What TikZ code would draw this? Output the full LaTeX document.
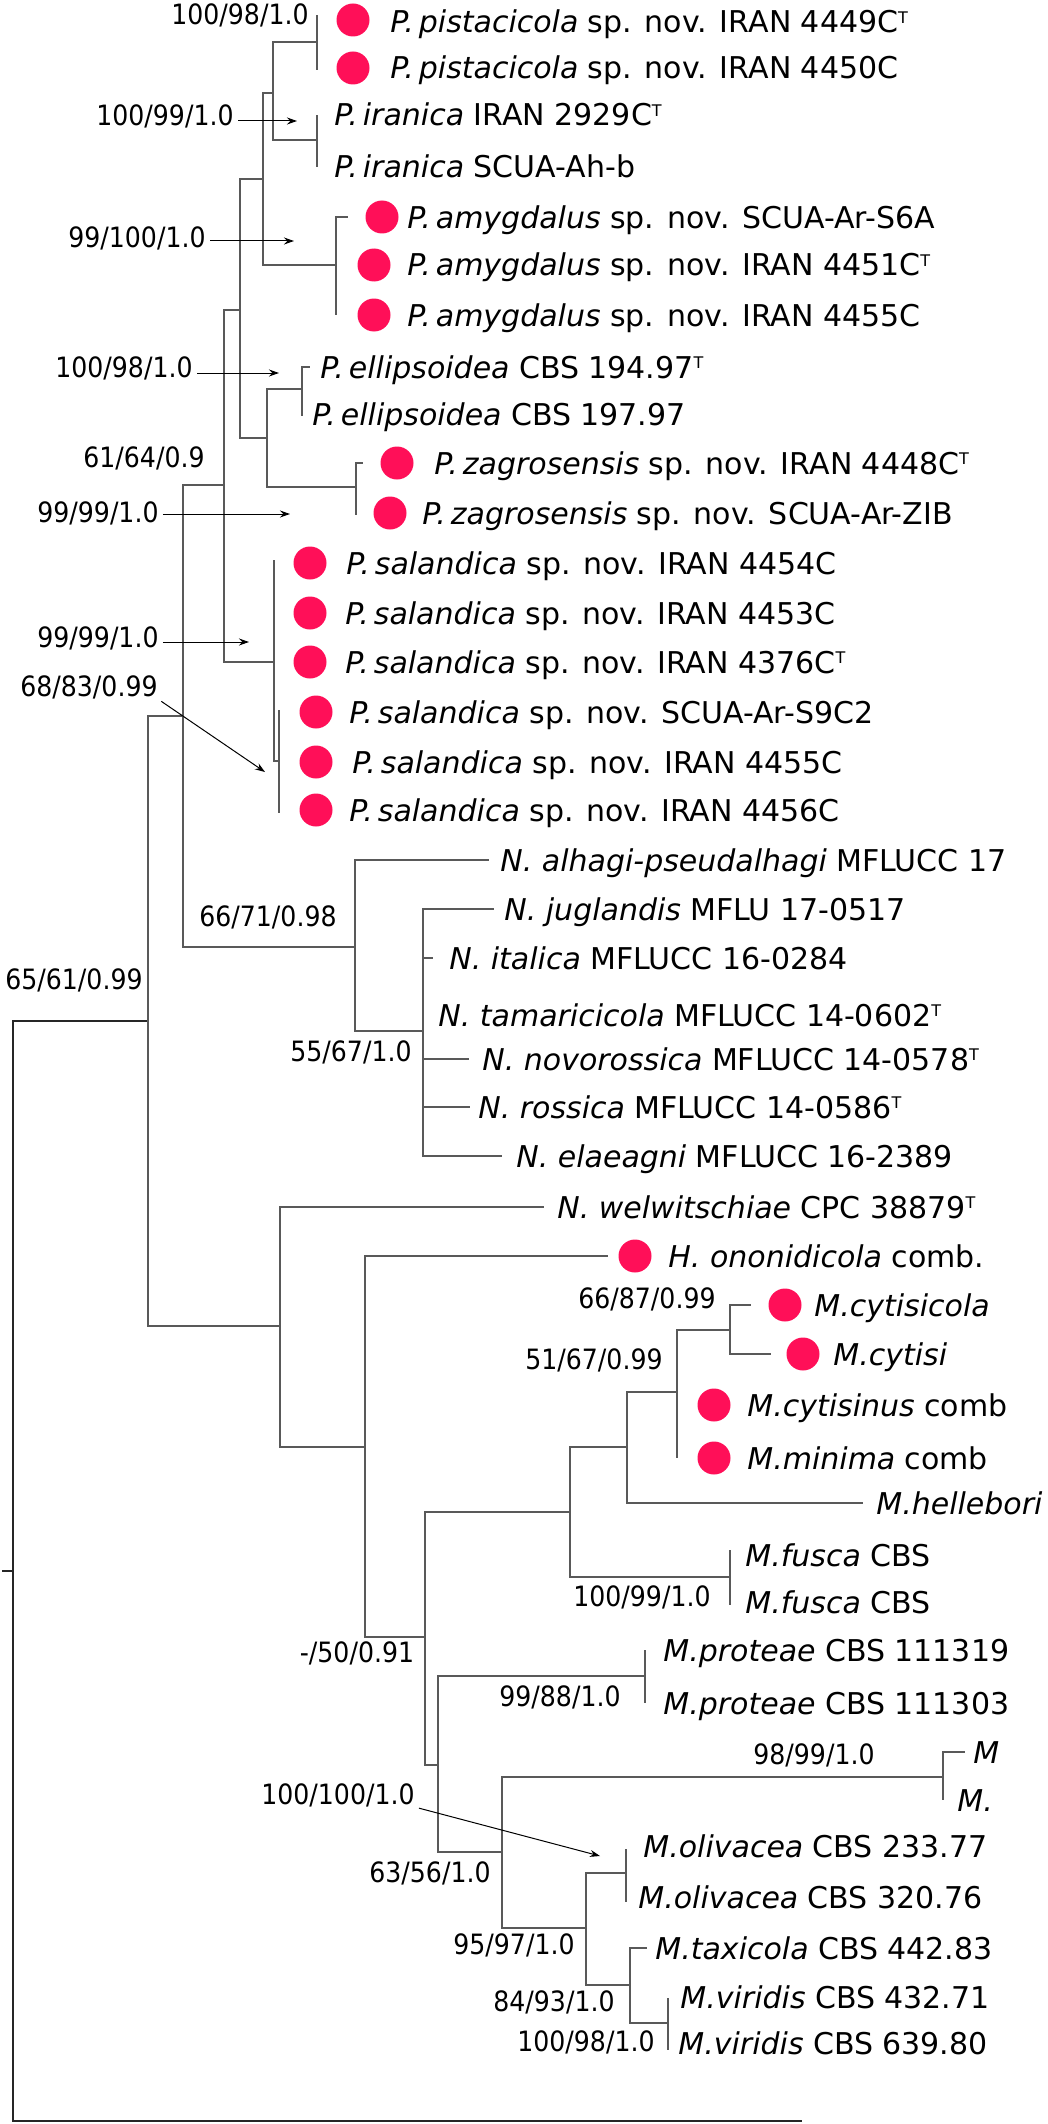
\documentclass[tikz,border=0pt]{standalone}
\usepackage{fontspec}
\setmainfont{DejaVu Sans}
\newfontfamily\lblfont[FakeStretch=0.9]{DejaVu Sans}
\usetikzlibrary{arrows.meta}
\definecolor{dotred}{RGB}{255,15,88}
\newcommand{\typ}{\raisebox{4.6pt}{\fontsize{8}{8}\selectfont T}}

\begin{document}
\begin{tikzpicture}[
    x=0.5pt, y=-0.5pt,
    branch/.style = {draw=black!65, line width=0.7pt},
    rootline/.style = {draw=black!85, line width=1pt},
    leaf/.style = {anchor=base west, inner sep=0pt, font=\fontsize{15}{18}\selectfont},
    support/.style = {inner sep=0pt, font=\lblfont\fontsize{14}{16}\selectfont},
    dot/.style = {circle, fill=dotred, minimum size=16.5pt, inner sep=0pt},
    pointer/.style = {-{Stealth[length=5pt, width=3.5pt]}, line width=0.5pt, shorten <=2pt}
]
    \useasboundingbox (0,0) rectangle (1048,2124);

    % Internal nodes
    \coordinate (pist) at (317,42);
    \coordinate (iran) at (317,140);
    \coordinate (pi) at (273,93);
    \coordinate (amyg) at (336,265);
    \coordinate (pia) at (263,179);
    \coordinate (ellip) at (302,389);
    \coordinate (zag) at (356,487);
    \coordinate (ez) at (267,438);
    \coordinate (pbig) at (240,310);
    \coordinate (salsub) at (279,761);
    \coordinate (sal) at (274,662);
    \coordinate (pcl) at (224,485);
    \coordinate (nn) at (423,1031);
    \coordinate (ncl) at (355,947);
    \coordinate (pn) at (183,716);
    \coordinate (cyt2) at (730,1330);
    \coordinate (cyt) at (677,1392);
    \coordinate (hel) at (627,1447);
    \coordinate (fus) at (730,1577);
    \coordinate (mc1) at (570,1512);
    \coordinate (prot) at (645,1676);
    \coordinate (mm) at (943,1777);
    \coordinate (oliv) at (626,1873);
    \coordinate (vir) at (668,2023);
    \coordinate (taxvir) at (630,1985);
    \coordinate (ot) at (586,1928);
    \coordinate (md) at (502,1852);
    \coordinate (me) at (438,1765);
    \coordinate (mf) at (425,1637);
    \coordinate (mg) at (365,1447);
    \coordinate (mh) at (280,1326);
    \coordinate (ingroup) at (148,1021);
    \coordinate (root) at (13,1571);
    \coordinate (stub) at (2,1571);
    \coordinate (outg) at (802,2121);

    % Tips
    \coordinate (t1) at (317,15);
    \coordinate (t2) at (317,70);
    \coordinate (t3) at (317,115);
    \coordinate (t4) at (317,167);
    \coordinate (t5) at (348,217);
    \coordinate (t6) at (336,265);
    \coordinate (t7) at (336,315);
    \coordinate (t8) at (310,367);
    \coordinate (t9) at (302,416);
    \coordinate (t10) at (363,463);
    \coordinate (t11) at (356,515);
    \coordinate (t12) at (274,560);
    \coordinate (t13) at (274,613);
    \coordinate (t14) at (274,662);
    \coordinate (t15) at (279,710);
    \coordinate (t16) at (279,762);
    \coordinate (t17) at (279,813);
    \coordinate (t18) at (489,860);
    \coordinate (t19) at (494,909);
    \coordinate (t20) at (433,958);
    \coordinate (t21) at (423,1015);
    \coordinate (t22) at (469,1059);
    \coordinate (t23) at (470,1107);
    \coordinate (t24) at (502,1156);
    \coordinate (t25) at (544,1207);
    \coordinate (t26) at (608,1256);
    \coordinate (t27) at (751,1305);
    \coordinate (t28) at (771,1354);
    \coordinate (t29) at (677,1405);
    \coordinate (t30) at (677,1458);
    \coordinate (t31) at (863,1503);
    \coordinate (t32) at (730,1550);
    \coordinate (t33) at (730,1605);
    \coordinate (t34) at (645,1650);
    \coordinate (t35) at (645,1703);
    \coordinate (t36) at (965,1752);
    \coordinate (t37) at (943,1800);
    \coordinate (t38) at (626,1849);
    \coordinate (t39) at (626,1902);
    \coordinate (t40) at (647,1948);
    \coordinate (t41) at (668,1998);
    \coordinate (t42) at (668,2050);

    % Branches
    \draw[rootline] (stub) -- (root);
    \draw[rootline] (root) |- (ingroup);
    \draw[rootline] (root) |- (outg);
    \draw[branch] (ingroup) |- (pn);
    \draw[branch] (ingroup) |- (mh);
    \draw[branch] (pn) |- (pcl);
    \draw[branch] (pn) |- (ncl);
    \draw[branch] (pcl) |- (pbig);
    \draw[branch] (pcl) |- (sal);
    \draw[branch] (pbig) |- (pia);
    \draw[branch] (pbig) |- (ez);
    \draw[branch] (pia) |- (pi);
    \draw[branch] (pia) |- (amyg);
    \draw[branch] (pi) |- (pist);
    \draw[branch] (pi) |- (iran);
    \draw[branch] (pist) |- (t1);
    \draw[branch] (pist) |- (t2);
    \draw[branch] (iran) |- (t3);
    \draw[branch] (iran) |- (t4);
    \draw[branch] (amyg) |- (t5);
    \draw[branch] (amyg) |- (t6);
    \draw[branch] (amyg) |- (t7);
    \draw[branch] (ez) |- (ellip);
    \draw[branch] (ez) |- (zag);
    \draw[branch] (ellip) |- (t8);
    \draw[branch] (ellip) |- (t9);
    \draw[branch] (zag) |- (t10);
    \draw[branch] (zag) |- (t11);
    \draw[branch] (sal) |- (t12);
    \draw[branch] (sal) |- (t13);
    \draw[branch] (sal) |- (salsub);
    \draw[branch] (salsub) |- (t15);
    \draw[branch] (salsub) |- (t17);
    \draw[branch] (ncl) |- (t18);
    \draw[branch] (ncl) |- (nn);
    \draw[branch] (nn) |- (t19);
    \draw[branch] (nn) |- (t20);
    \draw[branch] (nn) |- (t22);
    \draw[branch] (nn) |- (t23);
    \draw[branch] (nn) |- (t24);
    \draw[branch] (mh) |- (t25);
    \draw[branch] (mh) |- (mg);
    \draw[branch] (mg) |- (t26);
    \draw[branch] (mg) |- (mf);
    \draw[branch] (mf) |- (mc1);
    \draw[branch] (mf) |- (me);
    \draw[branch] (mc1) |- (hel);
    \draw[branch] (mc1) |- (fus);
    \draw[branch] (hel) |- (cyt);
    \draw[branch] (hel) |- (t31);
    \draw[branch] (cyt) |- (cyt2);
    \draw[branch] (cyt) |- (t30);
    \draw[branch] (cyt2) |- (t27);
    \draw[branch] (cyt2) |- (t28);
    \draw[branch] (fus) |- (t32);
    \draw[branch] (fus) |- (t33);
    \draw[branch] (me) |- (prot);
    \draw[branch] (me) |- (md);
    \draw[branch] (prot) |- (t34);
    \draw[branch] (prot) |- (t35);
    \draw[branch] (md) |- (mm);
    \draw[branch] (md) |- (ot);
    \draw[branch] (mm) |- (t36);
    \draw[branch] (mm) |- (t37);
    \draw[branch] (ot) |- (oliv);
    \draw[branch] (ot) |- (taxvir);
    \draw[branch] (oliv) |- (t38);
    \draw[branch] (oliv) |- (t39);
    \draw[branch] (taxvir) |- (t40);
    \draw[branch] (taxvir) |- (vir);
    \draw[branch] (vir) |- (t41);
    \draw[branch] (vir) |- (t42);

    % New species and combinations
    \node[dot] (d1) at (353,20) {};
    \node[dot] (d2) at (353,68) {};
    \node[dot] (d5) at (382,217) {};
    \node[dot] (d6) at (374,265) {};
    \node[dot] (d7) at (374,315) {};
    \node[dot] (d10) at (397,463) {};
    \node[dot] (d11) at (390,513) {};
    \node[dot] (d12) at (310,563) {};
    \node[dot] (d13) at (310,613) {};
    \node[dot] (d14) at (310,662) {};
    \node[dot] (d15) at (316,712) {};
    \node[dot] (d16) at (316,762) {};
    \node[dot] (d17) at (316,810) {};
    \node[dot] (d26) at (635,1256) {};
    \node[dot] (d27) at (785,1305) {};
    \node[dot] (d28) at (803,1354) {};
    \node[dot] (d29) at (714,1405) {};
    \node[dot] (d30) at (714,1458) {};

    % Taxa
    \node[leaf] (n1) at (390,33) {\textit{P.\,pistacicola} sp. nov. IRAN 4449C\typ};
    \node[leaf] (n2) at (390,79) {\textit{P.\,pistacicola} sp. nov. IRAN 4450C};
    \node[leaf] (n3) at (334,126) {\textit{P.\,iranica} IRAN 2929C\typ};
    \node[leaf] (n4) at (334,178) {\textit{P.\,iranica} SCUA-Ah-b};
    \node[leaf] (n5) at (407,228) {\textit{P.\,amygdalus} sp. nov. SCUA-Ar-S6A};
    \node[leaf] (n6) at (407,276) {\textit{P.\,amygdalus} sp. nov. IRAN 4451C\typ};
    \node[leaf] (n7) at (407,326) {\textit{P.\,amygdalus} sp. nov. IRAN 4455C};
    \node[leaf] (n8) at (320,378) {\textit{P.\,ellipsoidea} CBS 194.97\typ};
    \node[leaf] (n9) at (312,425) {\textit{P.\,ellipsoidea} CBS 197.97};
    \node[leaf] (n10) at (434,474) {\textit{P.\,zagrosensis} sp. nov. IRAN 4448C\typ};
    \node[leaf] (n11) at (422,524) {\textit{P.\,zagrosensis} sp. nov. SCUA-Ar-ZIB};
    \node[leaf] (n12) at (346,574) {\textit{P.\,salandica} sp. nov. IRAN 4454C};
    \node[leaf] (n13) at (345,624) {\textit{P.\,salandica} sp. nov. IRAN 4453C};
    \node[leaf] (n14) at (345,673) {\textit{P.\,salandica} sp. nov. IRAN 4376C\typ};
    \node[leaf] (n15) at (349,723) {\textit{P.\,salandica} sp. nov. SCUA-Ar-S9C2};
    \node[leaf] (n16) at (352,773) {\textit{P.\,salandica} sp. nov. IRAN 4455C};
    \node[leaf] (n17) at (349,821) {\textit{P.\,salandica} sp. nov. IRAN 4456C};
    \node[leaf] (n18) at (500,871) {\textit{N. alhagi-pseudalhagi} MFLUCC 17};
    \node[leaf] (n19) at (504,920) {\textit{N. juglandis} MFLU 17-0517};
    \node[leaf] (n20) at (449,969) {\textit{N. italica} MFLUCC 16-0284};
    \node[leaf] (n21) at (438,1026) {\textit{N. tamaricicola} MFLUCC 14-0602\typ};
    \node[leaf] (n22) at (482,1070) {\textit{N. novorossica} MFLUCC 14-0578\typ};
    \node[leaf] (n23) at (478,1118) {\textit{N. rossica} MFLUCC 14-0586\typ};
    \node[leaf] (n24) at (516,1167) {\textit{N. elaeagni} MFLUCC 16-2389};
    \node[leaf] (n25) at (557,1218) {\textit{N. welwitschiae} CPC 38879\typ};
    \node[leaf] (n26) at (668,1267) {\textit{H. ononidicola} comb.};
    \node[leaf] (n27) at (814,1316) {\textit{M.cytisicola}};
    \node[leaf] (n28) at (833,1365) {\textit{M.cytisi}};
    \node[leaf] (n29) at (747,1416) {\textit{M.cytisinus} comb};
    \node[leaf] (n30) at (747,1469) {\textit{M.minima} comb};
    \node[leaf] (n31) at (876,1514) {\textit{M.hellebori}};
    \node[leaf] (n32) at (745,1566) {\textit{M.fusca} CBS};
    \node[leaf] (n33) at (745,1613) {\textit{M.fusca} CBS};
    \node[leaf] (n34) at (663,1661) {\textit{M.proteae} CBS 111319};
    \node[leaf] (n35) at (663,1714) {\textit{M.proteae} CBS 111303};
    \node[leaf] (n36) at (973,1763) {\textit{M}};
    \node[leaf] (n37) at (957,1811) {\textit{M.}};
    \node[leaf] (n38) at (643,1857) {\textit{M.olivacea} CBS 233.77};
    \node[leaf] (n39) at (638,1908) {\textit{M.olivacea} CBS 320.76};
    \node[leaf] (n40) at (655,1959) {\textit{M.taxicola} CBS 442.83};
    \node[leaf] (n41) at (680,2008) {\textit{M.viridis} CBS 432.71};
    \node[leaf] (n42) at (678,2054) {\textit{M.viridis} CBS 639.80};

    % Support values
    \node[support] (s1) at (240,15) {100/98/1.0};
    \node[support] (s2) at (165,116) {100/99/1.0};
    \node[support] (s3) at (137,238) {99/100/1.0};
    \node[support] (s4) at (124,368) {100/98/1.0};
    \node[support] (s5) at (144,458) {61/64/0.9};
    \node[support] (s6) at (98,513) {99/99/1.0};
    \node[support] (s7) at (98,638) {99/99/1.0};
    \node[support] (s8) at (89,687) {68/83/0.99};
    \node[support] (s9) at (268,917) {66/71/0.98};
    \node[support] (s10) at (74,980) {65/61/0.99};
    \node[support] (s11) at (351,1052) {55/67/1.0};
    \node[support] (s12) at (647,1299) {66/87/0.99};
    \node[support] (s13) at (594,1360) {51/67/0.99};
    \node[support] (s14) at (642,1597) {100/99/1.0};
    \node[support] (s15) at (357,1653) {-/50/0.91};
    \node[support] (s16) at (560,1697) {99/88/1.0};
    \node[support] (s17) at (814,1755) {98/99/1.0};
    \node[support] (s18) at (338,1795) {100/100/1.0};
    \node[support] (s19) at (430,1873) {63/56/1.0};
    \node[support] (s20) at (514,1945) {95/97/1.0};
    \node[support] (s21) at (554,2002) {84/93/1.0};
    \node[support] (s22) at (586,2042) {100/98/1.0};

    % Pointer targets
    \coordinate (a2) at (297,121);
    \coordinate (a3) at (294,241);
    \coordinate (a4) at (279,373);
    \coordinate (a6) at (290,514);
    \coordinate (a7) at (249,642);
    \coordinate (a8) at (265,772);
    \coordinate (a18) at (600,1856);

    \draw[pointer] (s2.east |- a2) -- (a2);
    \draw[pointer] (s3.east |- a3) -- (a3);
    \draw[pointer] (s4.east |- a4) -- (a4);
    \draw[pointer] (s6.east |- a6) -- (a6);
    \draw[pointer] (s7.east |- a7) -- (a7);
    \draw[pointer] (s8.south east) -- (a8);
    \draw[pointer] (s18.south east) -- (a18);

\end{tikzpicture}
\end{document}
